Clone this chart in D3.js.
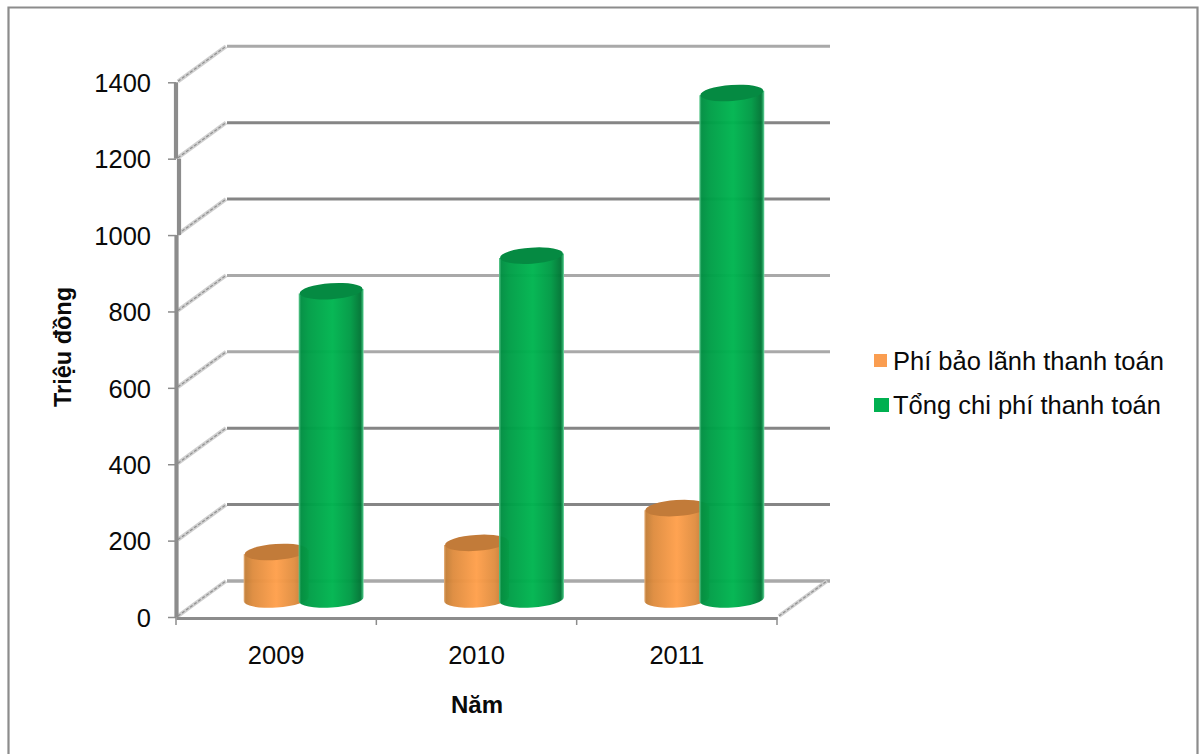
<!DOCTYPE html>
<html lang="vi">
<head>
<meta charset="utf-8">
<title>Phí bảo lãnh và tổng chi phí thanh toán</title>
<script src="https://cdn.jsdelivr.net/npm/d3@7/dist/d3.min.js"></script>
<style>
  html, body { margin: 0; padding: 0; background: #fff; }
  svg { display: block; }
  text { font-family: "Liberation Sans", Arial, sans-serif; fill: #0a0a0a; }
</style>
</head>
<body>
<svg id="chart" width="1200" height="754"></svg>
<script>
// Chart data
const years = ["2009", "2010", "2011"];
const seriesNames = ["Phí bảo lãnh thanh toán", "Tổng chi phí thanh toán"];
const guaranteeFees = [123, 147, 238];
const totalCosts = [806, 899, 1325];
const valueTicks = [0, 200, 400, 600, 800, 1000, 1200, 1400];
const yTitle = "Triệu đồng";
const xTitle = "Năm";

const svg = d3.select("#chart");

// Outer frame: top, left and right edges
svg.append("path")
  .attr("d", "M8.5,754V7.5H1197.5V754")
  .attr("fill", "none").attr("stroke", "#8c8c8c").attr("stroke-width", 2.2);

// Front plane scales and depth projection of the 3D box
const y = d3.scaleLinear().domain([0, 1400]).range([617, 82.3]);
const x = d3.scaleBand().domain(years).range([176, 777]);
const depth = { dx: 51, dy: -36 };
const seriesOffset = d3.scalePoint().domain(seriesNames).range([-25.5, 29.5]);
const barRx = 32.5, barRy = 8.5, tilt = -4;
const lighterLines = new Set([0, 600, 800, 1400]);

// Back wall gridlines
svg.append("g").selectAll("line").data(valueTicks).join("line")
  .attr("x1", 176 + depth.dx).attr("x2", 830)
  .attr("y1", d => y(d) + depth.dy).attr("y2", d => y(d) + depth.dy)
  .attr("stroke", d => lighterLines.has(d) ? "#a9a9a9" : "#858585")
  .attr("stroke-width", d => d === 0 ? 3.5 : 3);

// Side wall gridlines, drawn as soft hatched bands
const sideLines = svg.append("g");
const diagonal = (g, x0, d) => {
  g.append("line").attr("x1", x0 + 2).attr("x2", x0 + depth.dx - 1)
    .attr("y1", y(d) - 1).attr("y2", y(d) + depth.dy)
    .attr("stroke", "#cfcfcf").attr("stroke-width", 4);
  g.append("line").attr("x1", x0 + 2).attr("x2", x0 + depth.dx - 1)
    .attr("y1", y(d) - 1).attr("y2", y(d) + depth.dy)
    .attr("stroke", "#8f8f8f").attr("stroke-width", 1.2).attr("stroke-dasharray", "3 2");
};
valueTicks.forEach(d => diagonal(sideLines, 176, d));
diagonal(sideLines, 777, 0);

// Horizontal shading of the cylinders
const defs = svg.append("defs");
const gradient = (id, stops) => defs.append("linearGradient").attr("id", id)
  .selectAll("stop").data(stops).join("stop")
  .attr("offset", d => d[0]).attr("stop-color", d => d[1]);
gradient("shade-orange", [[0, "#e9b27c"], [0.03, "#c47f38"], [0.14, "#de8c3f"], [0.5, "#ffa04c"], [0.78, "#e08e41"], [0.96, "#b97431"], [1, "#c98a4c"]]);
gradient("shade-green", [[0, "#5fca90"], [0.035, "#008f42"], [0.16, "#009e47"], [0.52, "#00b550"], [0.8, "#009a45"], [0.95, "#007635"], [0.98, "#25a863"], [1, "#7edcaa"]]);

const barColors = { top: ["#c27b39", "#058a42"], fill: ["url(#shade-orange)", "url(#shade-green)"] };
const seriesValues = [guaranteeFees, totalCosts];

// Cylinders: an outline from the top rim around the bottom curve, then a darker lid
const rise = barRx * Math.sin(-tilt * Math.PI / 180);
const barPath = (cx, top, base) =>
  `M${cx - barRx},${top + rise}L${cx - barRx},${base + rise}` +
  `A${barRx},${barRy} ${tilt} 0 0 ${cx + barRx},${base - rise}` +
  `L${cx + barRx},${top - rise}Z`;

const barsLayer = svg.append("g");
seriesNames.forEach((name, s) => {
  years.forEach((year, i) => {
    const cx = x(year) + x.bandwidth() / 2 + depth.dx / 2 + seriesOffset(name);
    const base = y(0) + depth.dy / 2;
    const top = y(seriesValues[s][i]) + depth.dy / 2;
    barsLayer.append("path").attr("d", barPath(cx, top, base))
      .attr("fill", barColors.fill[s]).attr("fill-opacity", 0.97);
    barsLayer.append("ellipse")
      .attr("cx", cx).attr("cy", top).attr("rx", barRx - 1).attr("ry", barRy - 0.5)
      .attr("transform", `rotate(${tilt} ${cx} ${top})`)
      .attr("fill", barColors.top[s]);
  });
});

// Value axis
const yAxis = svg.append("g").attr("transform", "translate(176,1)")
  .call(d3.axisLeft(y).tickValues(valueTicks).tickSize(8).tickPadding(17).tickFormat(d3.format("d")));
yAxis.select(".domain").remove();
yAxis.selectAll(".tick line").attr("stroke", "#8c8c8c").attr("stroke-width", 1.5).attr("transform", "translate(0,-1)");
yAxis.selectAll("text").attr("font-size", 25.5).attr("font-family", null);

// Thick axis spine with its small jog between 1000 and 1200
const spine = [[1400, 1200, 0], [1200, 1000, 3], [1000, 0, 0.5]];
svg.append("g").selectAll("line").data(spine).join("line")
  .attr("x1", d => 176 + d[2]).attr("x2", d => 176 + d[2])
  .attr("y1", d => y(d[0])).attr("y2", d => y(d[1]))
  .attr("stroke", "#8c8c8c").attr("stroke-width", 4.2);

// Category axis
const xAxis = svg.append("g").attr("transform", `translate(0,${y(0) + 1})`)
  .call(d3.axisBottom(x).tickSizeOuter(0).tickSize(0).tickPadding(28));
xAxis.select(".domain").attr("stroke", "#8c8c8c").attr("stroke-width", 3);
xAxis.selectAll("text").attr("font-size", 25.5).attr("font-family", null);
svg.append("g").selectAll("line").data(d3.range(years.length + 1)).join("line")
  .attr("x1", i => x.range()[0] + i * x.step()).attr("x2", i => x.range()[0] + i * x.step())
  .attr("y1", y(0)).attr("y2", y(0) + 8)
  .attr("stroke", "#8c8c8c").attr("stroke-width", 1.5);

// Axis titles
svg.append("text").attr("x", 477).attr("y", 713).attr("text-anchor", "middle")
  .attr("font-size", 24).attr("font-weight", "bold").text(xTitle);
svg.append("text").attr("transform", "translate(71,347) rotate(-90)").attr("text-anchor", "middle")
  .attr("font-size", 23.5).attr("font-weight", "bold").text(yTitle);

// Legend
const legendSwatch = ["#fa9d50", "#00b050"];
const legendRows = svg.append("g").selectAll("g").data(seriesNames).join("g")
  .attr("transform", (d, i) => `translate(874,${354 + i * 44})`);
legendRows.append("rect").attr("width", (d, i) => 13 + i * 2).attr("height", (d, i) => 13 + i)
  .attr("fill", (d, i) => legendSwatch[i]);
legendRows.append("text").attr("x", 19).attr("y", 16)
  .attr("font-size", 25.5).text(d => d);
</script>
</body>
</html>
